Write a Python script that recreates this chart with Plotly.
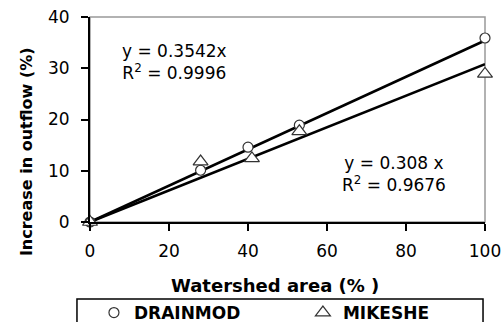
import plotly.graph_objects as go

# Data
area_drainmod = [0, 28, 40, 53, 100]
outflow_drainmod = [0, 10.1, 14.6, 18.9, 35.9]
area_mikeshe = [0, 28, 41, 53, 100]
outflow_mikeshe = [0, 11.8, 12.4, 17.7, 28.9]

slope_drainmod = 0.3542
slope_mikeshe = 0.308
r2_drainmod = 0.9996
r2_mikeshe = 0.9676

x_ticks = [0, 20, 40, 60, 80, 100]
y_ticks = [0, 10, 20, 30, 40]

trend_x = [0, 100]

FONT = "DejaVu Sans"

fig = go.Figure()

# Trendlines (linear through origin)
fig.add_trace(go.Scatter(
    x=trend_x, y=[slope_drainmod * v for v in trend_x], mode="lines",
    line=dict(color="black", width=2.6), showlegend=False, hoverinfo="skip",
    cliponaxis=False))
fig.add_trace(go.Scatter(
    x=trend_x, y=[slope_mikeshe * v for v in trend_x], mode="lines",
    line=dict(color="black", width=2.6), showlegend=False, hoverinfo="skip",
    cliponaxis=False))

# Observed points
fig.add_trace(go.Scatter(
    x=area_drainmod, y=outflow_drainmod, mode="markers", name="DRAINMOD",
    legend="legend",
    marker=dict(symbol="circle", size=10, color="white",
                line=dict(color="#333333", width=1.2)),
    cliponaxis=False))
fig.add_trace(go.Scatter(
    x=area_mikeshe, y=outflow_mikeshe, mode="markers", name="MIKESHE",
    legend="legend2",
    marker=dict(symbol="triangle-up", size=13, color="white",
                line=dict(color="#333333", width=1.2)),
    cliponaxis=False))

legend_common = dict(
    orientation="h", yanchor="middle", y=-0.444, xanchor="left",
    font=dict(family=FONT, size=17, color="black", weight="bold"),
    bgcolor="rgba(0,0,0,0)", borderwidth=0,
    itemclick=False, itemdoubleclick=False,
)

fig.update_layout(
    width=502, height=322,
    margin=dict(l=90, r=17, t=17, b=100, autoexpand=False),
    paper_bgcolor="white", plot_bgcolor="white",
    font=dict(family=FONT, color="black", size=17),
    showlegend=True,
    legend=dict(x=0.010, **legend_common),
    legend2=dict(x=0.539, **legend_common),
    xaxis=dict(
        range=[0, 100], tickvals=x_ticks, ticks="outside", ticklen=7,
        tickwidth=1.5, tickcolor="black", showline=True, linecolor="black",
        linewidth=2, showgrid=False, zeroline=False, automargin=False,
        tickfont=dict(family=FONT, size=17), ticklabelstandoff=6,
    ),
    yaxis=dict(
        range=[0, 40], tickvals=y_ticks, ticks="outside", ticklen=7,
        tickwidth=1.5, tickcolor="black", showline=True, linecolor="black",
        linewidth=2, showgrid=False, zeroline=False, automargin=False,
        tickfont=dict(family=FONT, size=17), ticklabelstandoff=8,
    ),
    shapes=[
        # gray frame on top and right
        dict(type="rect", xref="paper", yref="paper", x0=0, x1=1, y0=0, y1=1,
             line=dict(color="#999999", width=1.5), layer="below"),
        # legend box
        dict(type="rect", xref="paper", yref="paper",
             x0=-0.033, x1=0.995, y0=-0.376, y1=-0.62,
             line=dict(color="black", width=1.5), fillcolor="rgba(0,0,0,0)"),
    ],
    annotations=[
        dict(text="Increase in outflow (%)", textangle=-90, xref="paper",
             yref="paper", x=-0.162, y=0.341, showarrow=False,
             xanchor="center", yanchor="middle",
             font=dict(family=FONT, size=16, weight="bold")),
        dict(text="Watershed area (% )", xref="paper", yref="paper",
             x=(275 - 90) / 395, y=(222 - 285) / 205, showarrow=False,
             xanchor="center", yanchor="middle",
             font=dict(family=FONT, size=18, weight="bold")),
        dict(text=f"y = {slope_drainmod}x<br>R<sup>2</sup> = {r2_drainmod}",
             xref="paper", yref="paper", x=0.215, y=0.78, showarrow=False,
             align="center", xanchor="center", yanchor="middle",
             font=dict(family=FONT, size=17)),
        dict(text=f"y = {slope_mikeshe} x<br>R<sup>2</sup> = {r2_mikeshe}",
             xref="paper", yref="paper", x=0.77, y=0.235, showarrow=False,
             align="center", xanchor="center", yanchor="middle",
             font=dict(family=FONT, size=17)),
    ],
)

fig.write_html(
    "out.html",
    config={"displayModeBar": False},
    post_script="document.body.style.margin='0';document.body.style.overflow='hidden';",
)
